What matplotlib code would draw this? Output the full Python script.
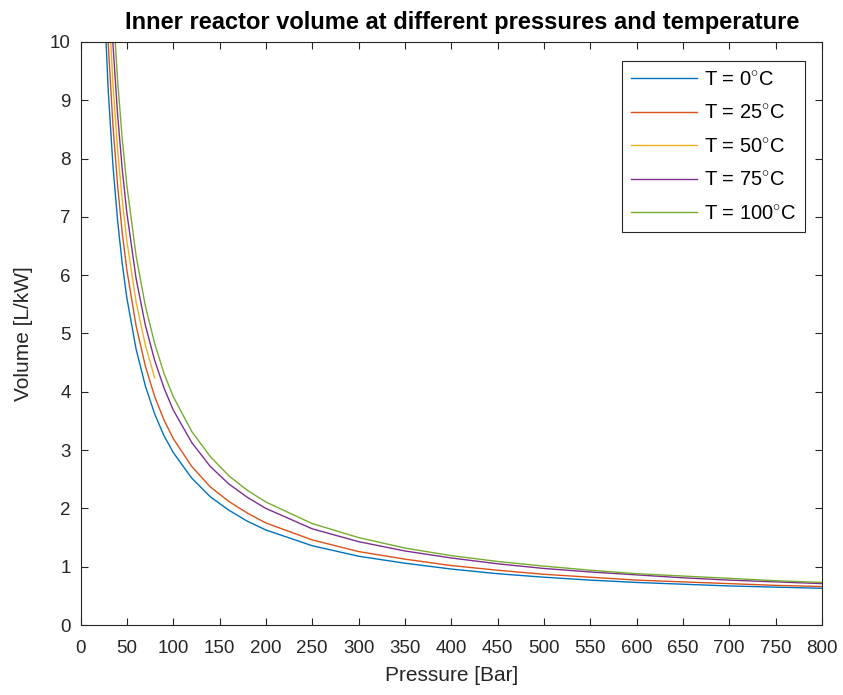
import matplotlib
matplotlib.use("Agg")
import matplotlib.pyplot as plt

plt.rcParams["font.family"] = ["Liberation Sans", "DejaVu Sans"]
plt.rcParams["mathtext.fontset"] = "custom"
plt.rcParams["mathtext.rm"] = "Liberation Sans"
plt.rcParams["mathtext.it"] = "Liberation Sans:italic"

# pressure grid [Bar]
pressure = [25, 30, 35, 40, 45, 50, 60, 70, 80, 90, 100, 120, 140, 160, 180,
            200, 250, 300, 350, 400, 450, 500, 550, 600, 650, 700, 750, 800]
pressure_50 = [25, 30, 35, 40, 45, 50, 60, 70, 80]

# volume [L/kW]
vol_0 = [10.91, 9.14, 7.88, 6.94, 6.20, 5.61, 4.73, 4.10, 3.62, 3.25, 2.96, 2.52, 2.20, 1.97, 1.78,
         1.63, 1.36, 1.18, 1.06, 0.96, 0.88, 0.82, 0.77, 0.73, 0.70, 0.67, 0.65, 0.63]
vol_25 = [11.87, 9.94, 8.57, 7.54, 6.73, 6.09, 5.13, 4.44, 3.92, 3.52, 3.20, 2.72, 2.37, 2.12, 1.92,
          1.75, 1.46, 1.26, 1.13, 1.02, 0.94, 0.87, 0.82, 0.77, 0.74, 0.71, 0.68, 0.66]
vol_50 = [12.87, 10.78, 9.28, 8.16, 7.29, 6.59, 5.54, 4.80, 4.24]
vol_75 = [13.83, 11.58, 9.97, 8.76, 7.82, 7.07, 5.94, 5.14, 4.54, 4.07, 3.69, 3.13, 2.72, 2.42, 2.19,
          2.00, 1.65, 1.43, 1.27, 1.15, 1.05, 0.97, 0.91, 0.86, 0.81, 0.77, 0.74, 0.71]
vol_100 = [14.78, 12.37, 10.64, 9.35, 8.34, 7.54, 6.33, 5.47, 4.83, 4.32, 3.92, 3.32, 2.89, 2.56, 2.31,
           2.11, 1.74, 1.50, 1.32, 1.19, 1.09, 1.01, 0.94, 0.88, 0.84, 0.80, 0.76, 0.73]

labels = [r"T = 0$^{\circ}$C", r"T = 25$^{\circ}$C", r"T = 50$^{\circ}$C",
          r"T = 75$^{\circ}$C", r"T = 100$^{\circ}$C"]
colors = ["#0072BD", "#D95319", "#EDB120", "#7E2F8E", "#77AC30"]

fig = plt.figure(figsize=(8.43, 6.95), dpi=100)
ax = fig.add_axes([0.0955, 0.1007, 0.8795, 0.8389])

series = [(pressure, vol_0), (pressure, vol_25), (pressure_50, vol_50),
          (pressure, vol_75), (pressure, vol_100)]
for (p, v), lab, col in zip(series, labels, colors):
    ax.plot(p, v, color=col, lw=1.0, label=lab)

ax.set_xlim(0, 800)
ax.set_ylim(0, 10)
ax.set_xticks(range(0, 801, 50))
ax.set_yticks(range(0, 11))

dark = "#262626"
for s in ax.spines.values():
    s.set_color(dark)
    s.set_linewidth(0.8)
ax.tick_params(direction="in", top=True, right=True, length=5, width=0.8,
               colors=dark, labelsize=13.5, labelcolor=dark, pad=7)
ax.tick_params(axis="x", pad=11)

ax.set_xlabel("Pressure [Bar]", fontsize=15, color=dark, labelpad=6)
ax.set_ylabel("Volume [L/kW]", fontsize=15, color=dark, labelpad=12)
ax.set_title("Inner reactor volume at different pressures and temperature",
             fontsize=17, fontweight="bold", color="black", pad=9, x=0.515)

leg = ax.legend(loc="upper right", fontsize=14.5, frameon=True, fancybox=False,
                handlelength=3.3, handletextpad=0.3, borderpad=0.45,
                labelspacing=0.72, borderaxespad=0, bbox_to_anchor=(0.977, 0.967))
leg.get_frame().set_edgecolor(dark)
leg.get_frame().set_linewidth(0.8)
leg.get_frame().set_alpha(1)

fig.savefig("out.png", dpi=100)
